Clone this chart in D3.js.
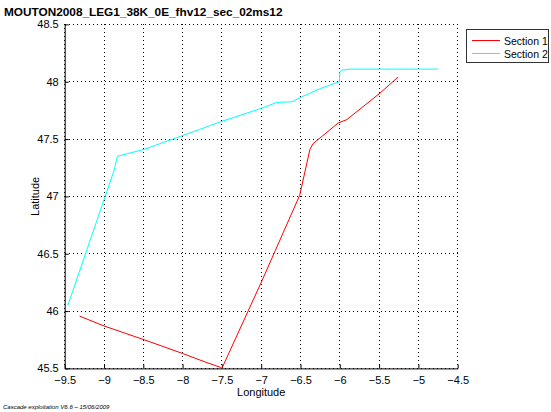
<!DOCTYPE html>
<html><head><meta charset="utf-8">
<script src="https://cdn.jsdelivr.net/npm/d3@7"></script>
<style>body{margin:0;background:#fff;} text{font-family:"Liberation Sans",Arial,sans-serif;}</style>
</head><body><svg id="c" width="551" height="412"></svg>
<script>
const title = "MOUTON2008_LEG1_38K_0E_fhv12_sec_02ms12";
const footer = "Cascade exploitation V6.6 – 15/06/2009";
const xTicks = [-9.5,-9,-8.5,-8,-7.5,-7,-6.5,-6,-5.5,-5,-4.5];
const yTicks = [45.5,46,46.5,47,47.5,48,48.5];
const seriesNames = ["Section 1","Section 2"];
const seriesColors = ["#ff0000","#00ffff"];
const sec1Lon = [-9.31,-9.0,-8.49,-8.0,-7.69,-7.52,-7.50,-6.99,-6.51,-6.38,-6.34,-6.02,-5.91,-5.49,-5.26];
const sec1Lat = [45.956,45.87,45.75,45.63,45.55,45.51,45.50,46.265,47.01,47.41,47.46,47.64,47.67,47.90,48.04];
const sec2Lon = [-9.46,-8.87,-8.83,-8.49,-7.78,-7.52,-6.99,-6.80,-6.61,-6.48,-6.25,-6.006,-6.0,-5.98,-5.87,-4.75];
const sec2Lat = [46.05,47.23,47.35,47.41,47.585,47.65,47.77,47.82,47.825,47.87,47.94,48.0,48.08,48.1,48.11,48.11];

const svg = d3.select("#c");
const L=64.7, R=457.7, T=24.4, B=368.4;
const x = d3.scaleLinear().domain([-9.5,-4.5]).range([L,R]);
const y = d3.scaleLinear().domain([45.5,48.5]).range([B,T]);

// grid
const g = svg.append("g");
g.selectAll(".vg").data(xTicks).enter().append("line")
 .attr("x1",d=>x(d)).attr("x2",d=>x(d)).attr("y1",T).attr("y2",B)
 .attr("stroke","#000").attr("stroke-width",1).attr("stroke-dasharray","1,3").attr("shape-rendering","crispEdges");
g.selectAll(".hg").data(yTicks).enter().append("line")
 .attr("x1",L).attr("x2",R).attr("y1",d=>y(d)).attr("y2",d=>y(d))
 .attr("stroke","#000").attr("stroke-width",1).attr("stroke-dasharray","1,3").attr("shape-rendering","crispEdges");

// axes
const xa = d3.axisBottom(x).tickValues(xTicks).tickSizeInner(-4).tickSizeOuter(0).tickPadding(6).tickFormat(d=>String(d).replace("-","\u2212"));
const ya = d3.axisLeft(y).tickValues(yTicks).tickSizeInner(-4).tickSizeOuter(0).tickPadding(6).tickFormat(d=>String(d));
const gx = svg.append("g").attr("transform",`translate(0,${B})`).call(xa);
const gy = svg.append("g").attr("transform",`translate(${L},0)`).call(ya);
[gx,gy].forEach(a=>{
  a.selectAll("text").attr("font-size","11px").attr("fill","#000").attr("font-family","Liberation Sans, Arial, sans-serif");
  a.selectAll("line").attr("stroke","#000");
  a.select(".domain").attr("stroke","#000");
});
gx.selectAll("text").attr("dy","0.9em");

// lines
const line = d3.line().x(d=>x(d[0])).y(d=>y(d[1]));
const s1 = sec1Lon.map((v,i)=>[v,sec1Lat[i]]);
const s2 = sec2Lon.map((v,i)=>[v,sec2Lat[i]]);
svg.append("path").datum(s1).attr("d",line).attr("fill","none").attr("stroke",seriesColors[0]).attr("stroke-width",1);
svg.append("path").datum(s2).attr("d",line).attr("fill","none").attr("stroke",seriesColors[1]).attr("stroke-width",1);

// texts
svg.append("text").attr("x",4).attr("y",16).attr("font-size","11.8px").attr("font-weight","bold").text(title);
svg.append("text").attr("x",(L+R)/2).attr("y",396).attr("text-anchor","middle").attr("font-size","11px").text("Longitude");
svg.append("text").attr("transform",`translate(39,${(T+B)/2}) rotate(-90)`).attr("text-anchor","middle").attr("font-size","11px").text("Latitude");
svg.append("text").attr("x",3).attr("y",409).attr("font-size","6px").attr("font-style","italic").text(footer);

// legend
const lg = svg.append("g");
lg.append("rect").attr("x",466.5).attr("y",29.5).attr("width",82).attr("height",33).attr("fill","#fff").attr("stroke","#333").attr("stroke-width",1);
seriesNames.forEach((n,i)=>{
  const yy = 40.5 + i*13;
  lg.append("line").attr("x1",472).attr("x2",500).attr("y1",yy).attr("y2",yy).attr("stroke",seriesColors[i]).attr("stroke-width",1);
  lg.append("text").attr("x",504).attr("y",yy+4).attr("font-size","10.5px").text(n);
});
</script></body></html>
